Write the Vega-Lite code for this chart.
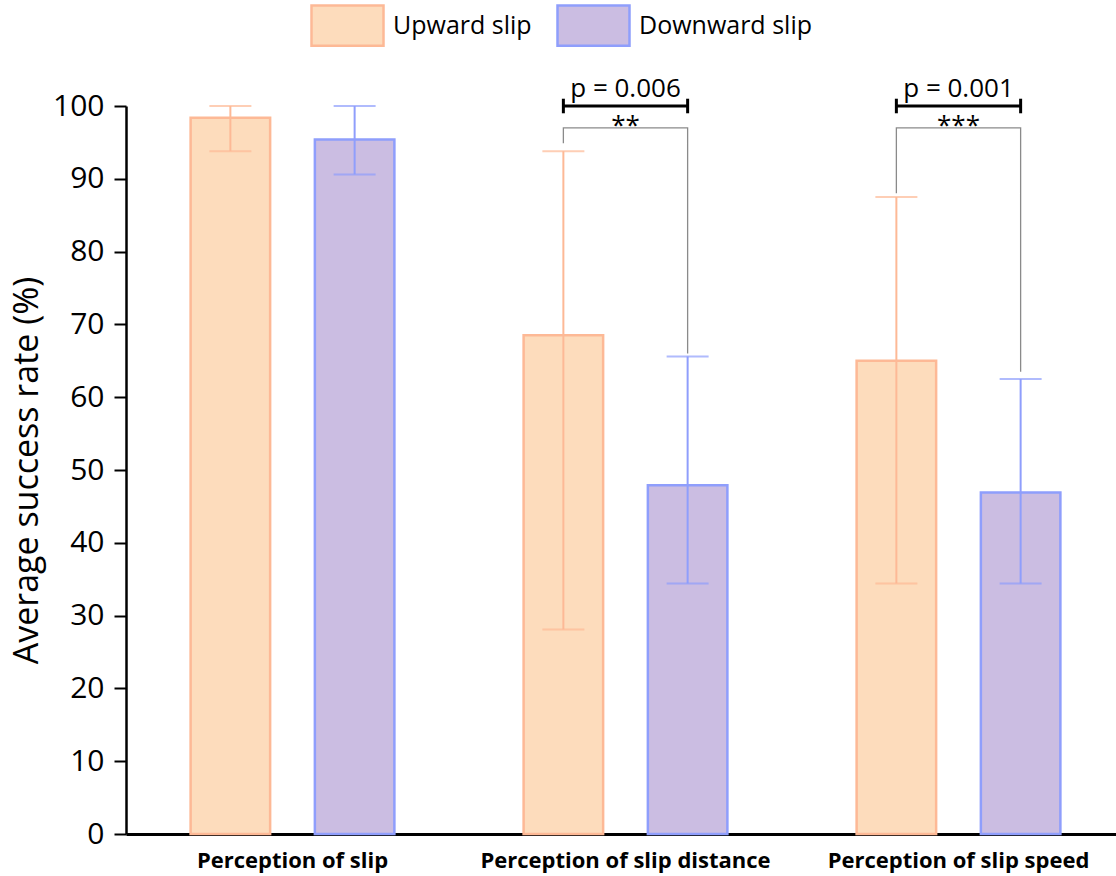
{
  "$schema": "https://vega.github.io/schema/vega-lite/v6.json",
  "width": 990,
  "height": 728,
  "autosize": {"type": "none"},
  "padding": {"left": 126, "top": 106, "right": 0, "bottom": 42},
  "background": "white",
  "config": {
    "font": "Open Sans",
    "view": {"stroke": null},
    "axis": {"grid": false}
  },
  "datasets": {
    "bars": [
      {"group": "Perception of slip", "series": "Upward slip", "value": 98.4, "lo": 93.8, "hi": 100},
      {"group": "Perception of slip", "series": "Downward slip", "value": 95.4, "lo": 90.6, "hi": 100},
      {"group": "Perception of slip distance", "series": "Upward slip", "value": 68.5, "lo": 28.1, "hi": 93.8},
      {"group": "Perception of slip distance", "series": "Downward slip", "value": 47.9, "lo": 34.4, "hi": 65.6},
      {"group": "Perception of slip speed", "series": "Upward slip", "value": 65.0, "lo": 34.4, "hi": 87.5},
      {"group": "Perception of slip speed", "series": "Downward slip", "value": 46.9, "lo": 34.4, "hi": 62.5}
    ],
    "bracket": [
      {"group": "Perception of slip distance", "series": "Upward slip", "y": 94.9, "o": 0},
      {"group": "Perception of slip distance", "series": "Upward slip", "y": 97.0, "o": 1},
      {"group": "Perception of slip distance", "series": "Downward slip", "y": 97.0, "o": 2},
      {"group": "Perception of slip distance", "series": "Downward slip", "y": 66.0, "o": 3},
      {"group": "Perception of slip speed", "series": "Upward slip", "y": 88.0, "o": 0},
      {"group": "Perception of slip speed", "series": "Upward slip", "y": 97.0, "o": 1},
      {"group": "Perception of slip speed", "series": "Downward slip", "y": 97.0, "o": 2},
      {"group": "Perception of slip speed", "series": "Downward slip", "y": 63.5, "o": 3}
    ],
    "sigbar": [
      {"group": "Perception of slip distance", "series": "Upward slip", "y": 100, "y0": 99.0, "y1": 101.0},
      {"group": "Perception of slip distance", "series": "Downward slip", "y": 100, "y0": 99.0, "y1": 101.0},
      {"group": "Perception of slip speed", "series": "Upward slip", "y": 100, "y0": 99.0, "y1": 101.0},
      {"group": "Perception of slip speed", "series": "Downward slip", "y": 100, "y0": 99.0, "y1": 101.0}
    ],
    "labels": [
      {"group": "Perception of slip distance", "p": "p = 0.006", "stars": "**"},
      {"group": "Perception of slip speed", "p": "p = 0.001", "stars": "***"}
    ]
  },
  "encoding": {
    "x": {
      "field": "group",
      "type": "nominal",
      "sort": ["Perception of slip", "Perception of slip distance", "Perception of slip speed"],
      "scale": {"range": [0, 999], "paddingInner": 0, "paddingOuter": 0},
      "axis": {
        "title": null,
        "labelAngle": 0,
        "labelFontSize": 22,
        "labelFontWeight": "bold",
        "labelColor": "black",
        "labelPadding": 16,
        "labelLimit": 400,
        "ticks": false,
        "domainColor": "black",
        "domainWidth": 3
      }
    }
  },
  "layer": [
    {
      "data": {"name": "bars"},
      "mark": {"type": "bar", "strokeWidth": 2.5},
      "encoding": {
        "xOffset": {
          "field": "series",
          "type": "nominal",
          "sort": ["Upward slip", "Downward slip"],
          "scale": {"paddingInner": 0.36, "paddingOuter": 0.52}
        },
        "y": {
          "field": "value",
          "type": "quantitative",
          "scale": {"domain": [0, 100], "nice": false},
          "axis": {
            "title": "Average success rate (%)",
            "titleFontSize": 34,
            "titleFontWeight": "normal",
            "titleColor": "black",
            "titlePadding": 8,
            "values": [0, 10, 20, 30, 40, 50, 60, 70, 80, 90, 100],
            "labelFontSize": 30,
            "labelColor": "black",
            "labelPadding": 10,
            "tickSize": 12,
            "tickWidth": 2,
            "tickColor": "black",
            "domainColor": "black",
            "domainWidth": 2.5
          }
        },
        "fill": {
          "field": "series",
          "type": "nominal",
          "scale": {"domain": ["Upward slip", "Downward slip"], "range": ["#fddcbc", "#cbbde2"]},
          "legend": {
            "title": null,
            "orient": "none",
            "direction": "horizontal",
            "legendX": 184,
            "legendY": -118,
            "symbolType": "M-1,-0.56H1V0.56H-1Z",
            "symbolSize": 5184,
            "symbolStrokeWidth": 2.5,
            "symbolOpacity": 1,
            "labelFontSize": 25,
            "labelLimit": 400,
            "labelColor": "black",
            "labelOffset": 8,
            "columnPadding": 20
          }
        },
        "stroke": {
          "field": "series",
          "type": "nominal",
          "scale": {"domain": ["Upward slip", "Downward slip"], "range": ["#fdb996", "#8f9efc"]},
          "legend": {
            "title": null,
            "orient": "none",
            "direction": "horizontal",
            "legendX": 184,
            "legendY": -118,
            "symbolType": "M-1,-0.56H1V0.56H-1Z",
            "symbolSize": 5184,
            "symbolStrokeWidth": 2.5,
            "labelFontSize": 25,
            "labelLimit": 400,
            "labelColor": "black",
            "labelOffset": 8,
            "columnPadding": 20
          }
        }
      }
    },
    {
      "data": {"name": "bars"},
      "mark": {"type": "rule", "strokeWidth": 2},
      "encoding": {
        "xOffset": {"field": "series", "type": "nominal", "sort": ["Upward slip", "Downward slip"]},
        "y": {"field": "lo", "type": "quantitative"},
        "y2": {"field": "hi"},
        "stroke": {"field": "series", "type": "nominal", "legend": null}
      }
    },
    {
      "data": {"name": "bars"},
      "mark": {"type": "tick", "thickness": 2, "size": 42},
      "encoding": {
        "xOffset": {"field": "series", "type": "nominal", "sort": ["Upward slip", "Downward slip"]},
        "y": {"field": "lo", "type": "quantitative"},
        "color": {"field": "series", "type": "nominal", "scale": {"domain": ["Upward slip", "Downward slip"], "range": ["#fdb996", "#8f9efc"]}, "legend": null}
      }
    },
    {
      "data": {"name": "bars"},
      "mark": {"type": "tick", "thickness": 2, "size": 42},
      "encoding": {
        "xOffset": {"field": "series", "type": "nominal", "sort": ["Upward slip", "Downward slip"]},
        "y": {"field": "hi", "type": "quantitative"},
        "color": {"field": "series", "type": "nominal", "legend": null}
      }
    },
    {
      "data": {"name": "bracket"},
      "mark": {"type": "line", "stroke": "#8a8a8a", "strokeWidth": 1.3},
      "encoding": {
        "xOffset": {"field": "series", "type": "nominal", "sort": ["Upward slip", "Downward slip"]},
        "y": {"field": "y", "type": "quantitative"},
        "detail": {"field": "group"},
        "order": {"field": "o", "type": "quantitative"}
      }
    },
    {
      "data": {"name": "sigbar"},
      "mark": {"type": "line", "stroke": "black", "strokeWidth": 3},
      "encoding": {
        "xOffset": {"field": "series", "type": "nominal", "sort": ["Upward slip", "Downward slip"]},
        "y": {"field": "y", "type": "quantitative"},
        "detail": {"field": "group"}
      }
    },
    {
      "data": {"name": "sigbar"},
      "mark": {"type": "rule", "stroke": "black", "strokeWidth": 3},
      "encoding": {
        "xOffset": {"field": "series", "type": "nominal", "sort": ["Upward slip", "Downward slip"]},
        "y": {"field": "y0", "type": "quantitative"},
        "y2": {"field": "y1"}
      }
    },
    {
      "data": {"name": "labels"},
      "mark": {"type": "text", "fontSize": 26, "color": "black", "baseline": "alphabetic", "align": "center"},
      "encoding": {
        "y": {"datum": 101.2, "type": "quantitative"},
        "text": {"field": "p"}
      }
    },
    {
      "data": {"name": "labels"},
      "mark": {"type": "text", "fontSize": 26, "color": "black", "baseline": "middle", "align": "center", "letterSpacing": 5},
      "encoding": {
        "y": {"datum": 97.2, "type": "quantitative"},
        "text": {"field": "stars"}
      }
    }
  ]
}
